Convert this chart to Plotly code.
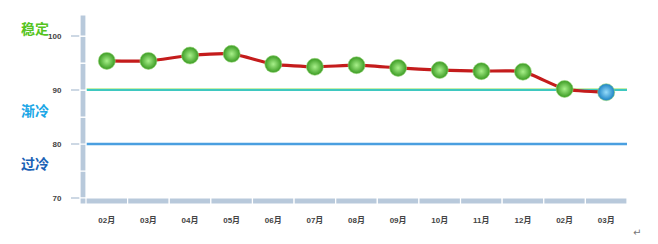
import plotly.graph_objects as go

categories = ["02月", "03月", "04月", "05月", "06月", "07月", "08月", "09月", "10月", "11月", "12月", "02月", "03月"]
values = [95.4, 95.4, 96.4, 96.7, 94.8, 94.3, 94.6, 94.1, 93.7, 93.5, 93.4, 90.2, 89.6]
y_ticks = [70, 80, 90, 100]
zone_labels = ["稳定", "渐冷", "过冷"]
zone_label_y = [101.5, 86.3, 76.4]
zone_colors = ["#55c41e", "#1aa6e6", "#1a62b6"]
thresholds = [90, 80]

W, H = 658, 244
ml, mr, mt, mb = 86, 31, 15, 46
pw, ph = W - ml - mr, H - mt - mb
ymin, ymax = 70, 103.9

x = list(range(len(categories)))
fig = go.Figure()

# threshold lines
fig.add_trace(go.Scatter(x=[-0.5, len(x) - 0.5], y=[thresholds[0] + 0.2] * 2, mode="lines",
                         line=dict(color="#b4ea8c", width=1.2), hoverinfo="skip", showlegend=False))
fig.add_trace(go.Scatter(x=[-0.5, len(x) - 0.5], y=[thresholds[0]] * 2, mode="lines",
                         line=dict(color="#3ec8c0", width=2), hoverinfo="skip", showlegend=False))
fig.add_trace(go.Scatter(x=[-0.5, len(x) - 0.5], y=[thresholds[1]] * 2, mode="lines",
                         line=dict(color="#4a9fe0", width=2.5), hoverinfo="skip", showlegend=False))

# main line
fig.add_trace(go.Scatter(x=x, y=values, mode="lines",
                         line=dict(color="#c41c1c", width=3.2, shape="spline", smoothing=0.6),
                         hoverinfo="skip", showlegend=False))

mcolors = ["#3a9a22"] * (len(x) - 1) + ["#1a82c4"]
gcolors = ["#a8f08a"] * (len(x) - 1) + ["#96dcfa"]
fig.add_trace(go.Scatter(x=x, y=values, mode="markers",
                         marker=dict(size=17, color=mcolors,
                                     gradient=dict(type="radial", color=gcolors),
                                     line=dict(color="#9ad87c", width=0.6)),
                         showlegend=False))

shapes = []
bar_col = "#b8c9db"
bw = 6 / pw
segs = [70, 75, 80, 85, 90, 95, 100, ymax]
for a, b in zip(segs[:-1], segs[1:]):
    shapes.append(dict(type="rect", xref="paper", yref="y", x0=-bw, x1=0, y0=a, y1=b,
                       fillcolor=bar_col, line=dict(color="white", width=1.2), layer="above"))
shapes.append(dict(type="rect", xref="paper", yref="paper", x0=-bw, x1=0, y0=-6 / ph, y1=0,
                   fillcolor=bar_col, line=dict(color="white", width=1.2), layer="above"))
for i in x:
    shapes.append(dict(type="rect", xref="x", yref="paper", x0=i - 0.5, x1=i + 0.5, y0=-6 / ph, y1=0,
                       fillcolor=bar_col, line=dict(color="white", width=1.2), layer="above"))

annotations = []
for t, yy, c in zip(zone_labels, zone_label_y, zone_colors):
    annotations.append(dict(text=t, xref="paper", yref="y", x=(35 - ml) / pw, y=yy,
                            showarrow=False, xanchor="center", yanchor="middle",
                            font=dict(family="Noto Sans CJK SC", size=14, color=c, weight="bold")))
annotations.append(dict(text="↵", xref="paper", yref="paper", x=(637 - ml) / pw, y=-(232 - (H - mb)) / ph,
                        showarrow=False, xanchor="center", yanchor="middle",
                        font=dict(family="DejaVu Sans", size=10, color="#777")))

fig.update_layout(
    width=W, height=H, margin=dict(l=ml, r=mr, t=mt, b=mb),
    paper_bgcolor="white", plot_bgcolor="white",
    shapes=shapes, annotations=annotations,
    xaxis=dict(range=[-0.5, len(x) - 0.5], tickvals=x, ticktext=categories, showgrid=False,
               zeroline=False, showline=False, ticks="", ticklabelstandoff=16,
               tickfont=dict(family="Liberation Sans, Noto Sans CJK SC", size=8, color="#444", weight="bold")),
    yaxis=dict(range=[ymin, ymax], tickvals=y_ticks, showgrid=False, zeroline=False, showline=False,
               ticks="outside", ticklen=14, tickcolor="#cdd8e4", tickwidth=1.5, ticklabelstandoff=8,
               tickfont=dict(family="Liberation Sans", size=8, color="#444", weight="bold")),
)

fig.write_html("out.html")
